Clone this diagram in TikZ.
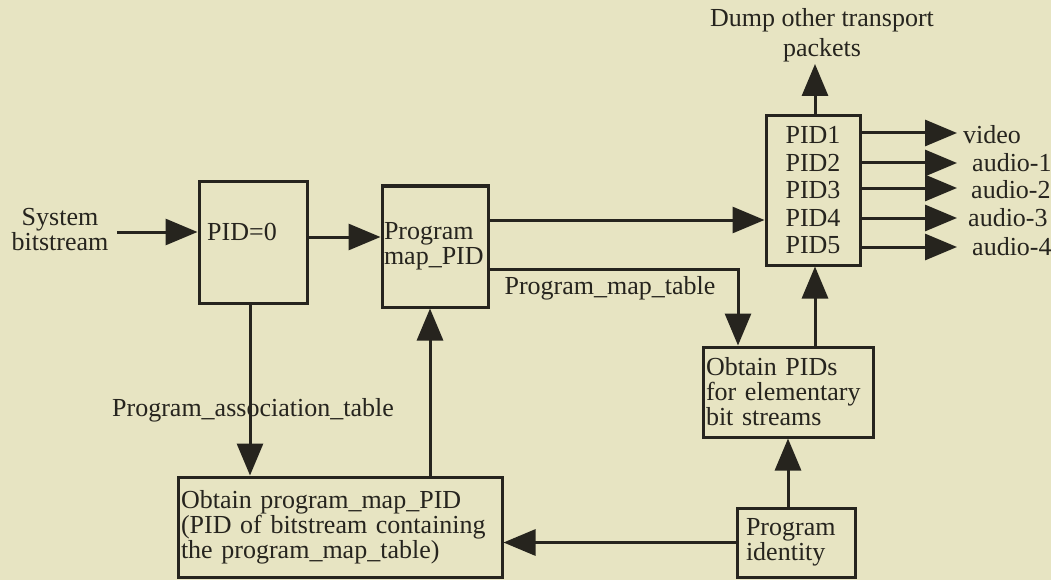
\documentclass[tikz,border=0pt]{standalone}
\usepackage{fontspec}
\setmainfont{Liberation Serif}
\usetikzlibrary{arrows.meta}
\definecolor{paper}{RGB}{231,228,194}
\definecolor{ink}{RGB}{38,36,30}
\begin{document}
\begin{tikzpicture}[x=1pt,y=-1pt,
  every node/.style={text=ink,font=\fontsize{26}{25}\selectfont},
  box/.style={draw=ink,line width=3pt,inner sep=0pt},
  conn/.style={draw=ink,line width=3pt},
  arr/.style={conn,-{Triangle[length=32pt,width=26pt]}},
  lbl/.style={inner sep=0pt}
]
\fill[paper] (0,0) rectangle (1051,580);
\useasboundingbox (0,0) rectangle (1051,580);
% boxes
\node[box,minimum width=108pt,minimum height=121pt] (pid0) at (253,242.5) {};
\node[lbl,anchor=west] (pid0t) at (207,232) {PID=0};
\node[box,minimum width=106pt,minimum height=121pt,text width=102pt,align=left,inner xsep=2pt] (prog) at (435,246.5) {Program\\map\_PID};
\node[box,minimum width=94pt,minimum height=149pt,align=center,font=\fontsize{26}{27.5}\selectfont] (pids) at (813,190.5) {PID1\\PID2\\PID3\\PID4\\PID5};
\node[box,minimum width=170pt,minimum height=90pt,text width=164pt,align=left,inner xsep=3pt] (obt) at (788,392) {Obtain PIDs\\for elementary\\bit streams};
\node[box,minimum width=324pt,minimum height=100pt,text width=318pt,align=left,inner xsep=3pt] (pmap) at (340,527) {Obtain program\_map\_PID\\(PID of bitstream containing\\the program\_map\_table)};
\node[box,minimum width=118pt,minimum height=69pt,text width=100pt,align=left,inner xsep=9pt] (pident) at (796,542.5) {Program\\identity};
% labels
\node[lbl,align=center] (sys) at (60,230) {System\\bitstream};
\coordinate (sysend) at (117,232);
\node[lbl,align=center,font=\fontsize{26}{30}\selectfont] (dump) at (822,35) {Dump other transport\\packets};
\coordinate (dumpend) at (815,64);
\node[lbl] (pat) at (253,410) {Program\_association\_table};
\node[lbl] (pmt) at (610,288) {Program\_map\_table};
\node[lbl,anchor=west] (o1) at (963,135) {video};
\node[lbl,anchor=west] (o2) at (972,163) {audio-1};
\node[lbl,anchor=west] (o3) at (971,190) {audio-2};
\node[lbl,anchor=west] (o4) at (968,218) {audio-3};
\node[lbl,anchor=west] (o5) at (972,247) {audio-4};
\foreach \i/\y in {1/133,2/163,3/188,4/218,5/247}{
  \coordinate (e\i) at (957,\y);
}
% connectors
\draw[arr] (sysend) -- (pid0.west |- sysend);
\draw[arr] (pid0.east |- 0,237) -- (prog.west |- 0,237);
\draw[arr] (prog.east |- 0,220) -- (pids.west |- 0,220);
\draw[arr] (prog.east |- 0,269) -| (738,0 |- obt.north);
\draw[arr] (815,0 |- obt.north) -- (815,0 |- pids.south);
\draw[arr] (788,0 |- pident.north) -- (788,0 |- obt.south);
\draw[arr] (pident.west) -- (pmap.east |- pident.west);
\draw[arr] (250,0 |- pid0.south) -- (250,0 |- pmap.north);
\draw[arr] (430,0 |- pmap.north) -- (430,0 |- prog.south);
\draw[arr] (815,0 |- pids.north) -- (dumpend);
\foreach \i in {1,...,5}{
  \draw[arr] (pids.east |- e\i) -- (e\i);
}
\end{tikzpicture}
\end{document}
